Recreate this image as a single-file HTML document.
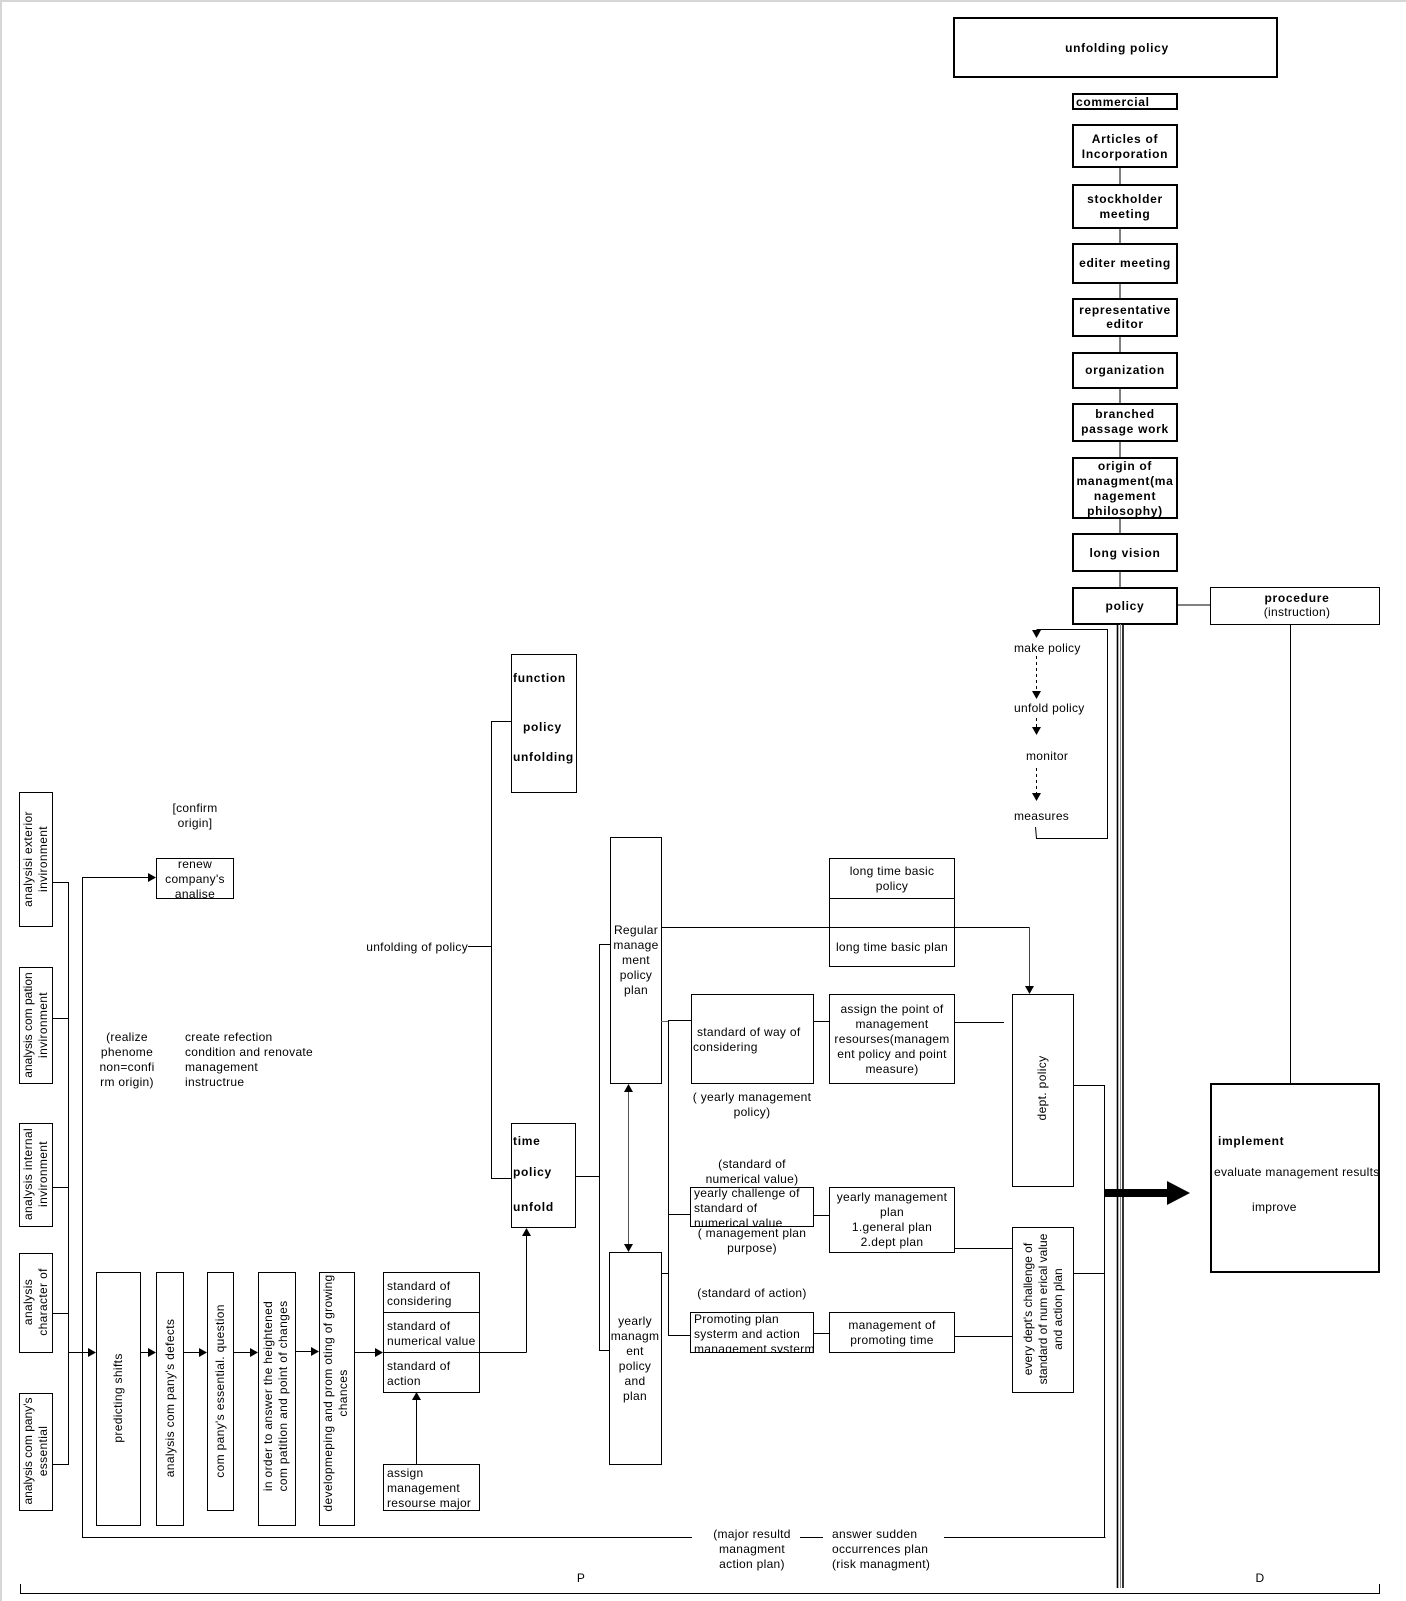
<!DOCTYPE html>
<html><head><meta charset="utf-8"><style>
html,body{margin:0;padding:0;background:#fff;}
svg{display:block;}
text{font-family:"Liberation Sans",Arial,sans-serif;font-size:12px;fill:#000;letter-spacing:0.3px;}
.b{font-weight:bold;letter-spacing:0.7px;}
.r{letter-spacing:0.35px;}
.r2{letter-spacing:0px;}
rect{fill:none;stroke:#000;stroke-width:1;}
line,polyline{stroke:#000;stroke-width:1;fill:none;}
</style></head><body>
<svg width="1406" height="1601" viewBox="0 0 1406 1601" xmlns="http://www.w3.org/2000/svg">
<defs>
<clipPath id="c1"><rect x="690" y="1187" width="123" height="39"/></clipPath>
<clipPath id="c2"><rect x="690" y="1312" width="123" height="40"/></clipPath>
<clipPath id="c3"><rect x="19" y="1393" width="33" height="117"/></clipPath>
</defs>
<rect x="0" y="0" width="1406" height="2" style="fill:#d6d6d6;stroke:none"/>
<rect x="0" y="0" width="2" height="1601" style="fill:#d6d6d6;stroke:none"/>

<!-- top chain -->
<rect x="954" y="18" width="323" height="59" style="stroke-width:2"/>
<text x="1117" y="52" class="b" text-anchor="middle">unfolding policy</text>
<rect x="1073" y="94" width="104" height="15" style="stroke-width:2"/>
<text x="1076" y="106" class="b">commercial</text>
<rect x="1073" y="125" width="104" height="42" style="stroke-width:2"/>
<text x="1125" y="143" class="b" text-anchor="middle">Articles of</text>
<text x="1125" y="158" class="b" text-anchor="middle">Incorporation</text>
<line x1="1120" y1="167" x2="1120" y2="185"/>
<rect x="1073" y="185" width="104" height="43" style="stroke-width:2"/>
<text x="1125" y="203" class="b" text-anchor="middle">stockholder</text>
<text x="1125" y="218" class="b" text-anchor="middle">meeting</text>
<line x1="1120" y1="228" x2="1120" y2="244"/>
<rect x="1073" y="244" width="104" height="39" style="stroke-width:2"/>
<text x="1125" y="267" class="b" text-anchor="middle">editer meeting</text>
<line x1="1120" y1="283" x2="1120" y2="299"/>
<rect x="1073" y="299" width="104" height="37" style="stroke-width:2"/>
<text x="1125" y="314" class="b" text-anchor="middle">representative</text>
<text x="1125" y="328" class="b" text-anchor="middle">editor</text>
<line x1="1120" y1="336" x2="1120" y2="353"/>
<rect x="1073" y="353" width="104" height="35" style="stroke-width:2"/>
<text x="1125" y="374" class="b" text-anchor="middle">organization</text>
<line x1="1120" y1="388" x2="1120" y2="404"/>
<rect x="1073" y="404" width="104" height="37" style="stroke-width:2"/>
<text x="1125" y="418" class="b" text-anchor="middle">branched</text>
<text x="1125" y="433" class="b" text-anchor="middle">passage work</text>
<line x1="1120" y1="441" x2="1120" y2="458"/>
<rect x="1073" y="458" width="104" height="60" style="stroke-width:2"/>
<text x="1125" y="470" class="b" text-anchor="middle">origin of</text>
<text x="1125" y="485" class="b" text-anchor="middle">managment(ma</text>
<text x="1125" y="500" class="b" text-anchor="middle">nagement</text>
<text x="1125" y="515" class="b" text-anchor="middle">philosophy)</text>
<line x1="1120" y1="518" x2="1120" y2="534"/>
<rect x="1073" y="534" width="104" height="37" style="stroke-width:2"/>
<text x="1125" y="557" class="b" text-anchor="middle">long vision</text>
<line x1="1120" y1="571" x2="1120" y2="588"/>
<rect x="1073" y="588" width="104" height="36" style="stroke-width:2"/>
<text x="1125" y="610" class="b" text-anchor="middle">policy</text>
<line x1="1177" y1="605" x2="1210" y2="605"/>
<rect x="1210.5" y="587.5" width="169" height="37"/>
<text x="1297" y="602" class="b" text-anchor="middle">procedure</text>
<text x="1297" y="616" text-anchor="middle">(instruction)</text>
<line x1="1290.5" y1="624" x2="1290.5" y2="1084"/>

<!-- triple line -->
<line x1="1117.5" y1="624" x2="1117.5" y2="1588" style="stroke-width:1.6"/>
<line x1="1120.5" y1="624" x2="1120.5" y2="1588" style="stroke:#8a8a8a;stroke-width:1"/>
<line x1="1123" y1="624" x2="1123" y2="1588" style="stroke-width:1.6"/>

<!-- loop -->
<polyline points="1036.5,629.5 1107.5,629.5 1107.5,838.5 1036.5,838.5 1035.5,827"/>
<polygon points="1032,630 1041,630 1036.5,638" fill="#000"/>
<text x="1014" y="652">make policy</text>
<line x1="1036.5" y1="656" x2="1036.5" y2="691" style="stroke-dasharray:3,3"/>
<polygon points="1032,691 1041,691 1036.5,699" fill="#000"/>
<text x="1014" y="712">unfold policy</text>
<line x1="1036.5" y1="718" x2="1036.5" y2="727" style="stroke-dasharray:3,3"/>
<polygon points="1032,727 1041,727 1036.5,735" fill="#000"/>
<text x="1026" y="760">monitor</text>
<line x1="1036.5" y1="768" x2="1036.5" y2="793" style="stroke-dasharray:3,3"/>
<polygon points="1032,793 1041,793 1036.5,801" fill="#000"/>
<text x="1014" y="820">measures</text>

<!-- implement -->
<rect x="1211" y="1084" width="168" height="188" style="stroke-width:2"/>
<text x="1218" y="1145" class="b">implement</text>
<text x="1214" y="1176">evaluate management results</text>
<text x="1252" y="1211">improve</text>
<rect x="1104" y="1189" width="64" height="8" style="fill:#000;stroke:none"/>
<polygon points="1167,1181 1190,1193 1167,1205" fill="#000"/>

<!-- left column boxes -->
<rect x="19.5" y="792.5" width="33" height="134"/>
<g transform="translate(36,859) rotate(-90)"><text class="r" x="0" y="-4" text-anchor="middle">analysisi exterior</text><text class="r" x="0" y="11" text-anchor="middle">invironment</text></g>
<rect x="19.5" y="967.5" width="33" height="116"/>
<g transform="translate(36,1025) rotate(-90)"><text class="r2" x="0" y="-4" text-anchor="middle">analysis com pation</text><text class="r" x="0" y="11" text-anchor="middle">invironment</text></g>
<rect x="19.5" y="1123.5" width="33" height="103"/>
<g transform="translate(36,1174) rotate(-90)"><text class="r" x="0" y="-4" text-anchor="middle">analysis internal</text><text class="r" x="0" y="11" text-anchor="middle">invironment</text></g>
<rect x="19.5" y="1253.5" width="33" height="99"/>
<g transform="translate(36,1302) rotate(-90)"><text class="r" x="0" y="-4" text-anchor="middle">analysis</text><text class="r" x="0" y="11" text-anchor="middle">character of</text></g>
<rect x="19.5" y="1393.5" width="33" height="117"/>
<g clip-path="url(#c3)"><g transform="translate(36,1451) rotate(-90)"><text class="r2" x="0" y="-4" text-anchor="middle">analysis com pany's</text><text class="r" x="0" y="11" text-anchor="middle">essential</text></g></g>

<line x1="52" y1="882.5" x2="68.5" y2="882.5"/>
<line x1="52" y1="1018.5" x2="68.5" y2="1018.5"/>
<line x1="52" y1="1187.5" x2="68.5" y2="1187.5"/>
<line x1="52" y1="1313.5" x2="68.5" y2="1313.5"/>
<line x1="52" y1="1464.5" x2="68.5" y2="1464.5"/>
<line x1="68.5" y1="882" x2="68.5" y2="1465"/>

<line x1="82.5" y1="877.5" x2="82.5" y2="1537.5"/>
<line x1="82" y1="877.5" x2="149" y2="877.5"/>
<polygon points="148,873 156,877.5 148,882" fill="#000"/>
<rect x="156.5" y="858.5" width="77" height="40"/>
<text x="195" y="868" text-anchor="middle">renew</text>
<text x="195" y="883" text-anchor="middle">company's</text>
<text x="195" y="898" text-anchor="middle">analise</text>
<text x="195" y="812" text-anchor="middle">[confirm</text>
<text x="195" y="827" text-anchor="middle">origin]</text>

<text x="127" y="1041" text-anchor="middle">(realize</text>
<text x="127" y="1056" text-anchor="middle">phenome</text>
<text x="127" y="1071" text-anchor="middle">non=confi</text>
<text x="127" y="1086" text-anchor="middle">rm origin)</text>
<text x="185" y="1041">create refection</text>
<text x="185" y="1056">condition and renovate</text>
<text x="185" y="1071">management</text>
<text x="185" y="1086">instructrue</text>

<!-- bottom chain -->
<line x1="68" y1="1352.5" x2="89" y2="1352.5"/>
<polygon points="88,1348 96,1352.5 88,1357" fill="#000"/>
<rect x="96.5" y="1272.5" width="44" height="253"/>
<g transform="translate(118,1398) rotate(-90)"><text class="r" x="0" y="4" text-anchor="middle">predicting shifts</text></g>
<line x1="140" y1="1352.5" x2="149" y2="1352.5"/>
<polygon points="148,1348 156,1352.5 148,1357" fill="#000"/>
<rect x="156.5" y="1272.5" width="27" height="253"/>
<g transform="translate(170,1398) rotate(-90)"><text class="r" x="0" y="4" text-anchor="middle">analysis com pany's defects</text></g>
<line x1="183" y1="1352.5" x2="200" y2="1352.5"/>
<polygon points="199,1348 207,1352.5 199,1357" fill="#000"/>
<rect x="207.5" y="1272.5" width="26" height="238"/>
<g transform="translate(220,1391) rotate(-90)"><text class="r" x="0" y="4" text-anchor="middle">com pany's essential.  question</text></g>
<line x1="233" y1="1352.5" x2="251" y2="1352.5"/>
<polygon points="250,1348 258,1352.5 250,1357" fill="#000"/>
<rect x="258.5" y="1272.5" width="37" height="253"/>
<g transform="translate(276,1396) rotate(-90)"><text class="r" x="0" y="-4" text-anchor="middle">in order to answer the heightened</text><text class="r" x="0" y="11" text-anchor="middle">com patition and point of changes</text></g>
<line x1="295" y1="1351.5" x2="312" y2="1351.5"/>
<polygon points="311,1347 319,1351.5 311,1356" fill="#000"/>
<rect x="319.5" y="1272.5" width="35" height="253"/>
<g transform="translate(336,1393) rotate(-90)"><text class="r" x="0" y="-4" text-anchor="middle">developmeping and prom oting of growing</text><text class="r" x="0" y="11" text-anchor="middle">chances</text></g>
<line x1="354" y1="1352.5" x2="376" y2="1352.5"/>
<polygon points="375,1348 383,1352.5 375,1357" fill="#000"/>

<rect x="383.5" y="1272.5" width="96" height="120"/>
<line x1="383" y1="1312.5" x2="479" y2="1312.5"/>
<line x1="383" y1="1352.5" x2="526.5" y2="1352.5"/>
<text x="387" y="1290">standard of</text>
<text x="387" y="1305">considering</text>
<text x="387" y="1330">standard of</text>
<text x="387" y="1345">numerical value</text>
<text x="387" y="1370">standard of</text>
<text x="387" y="1385">action</text>
<line x1="526.5" y1="1352.5" x2="526.5" y2="1234"/>
<polygon points="522,1236 526.5,1228 531,1236" fill="#000"/>
<line x1="416.5" y1="1464" x2="416.5" y2="1398"/>
<polygon points="412,1400 416.5,1392 421,1400" fill="#000"/>
<rect x="383.5" y="1464.5" width="96" height="46"/>
<text x="387" y="1477">assign</text>
<text x="387" y="1492">management</text>
<text x="387" y="1507">resourse major</text>

<!-- bottom line / feedback -->
<line x1="82" y1="1537.5" x2="692" y2="1537.5"/>
<line x1="800" y1="1537.5" x2="823" y2="1537.5"/>
<line x1="944" y1="1537.5" x2="1105.5" y2="1537.5"/>
<text x="752" y="1538" text-anchor="middle">(major resultd</text>
<text x="752" y="1553" text-anchor="middle">managment</text>
<text x="752" y="1568" text-anchor="middle">action plan)</text>
<text x="832" y="1538">answer sudden</text>
<text x="832" y="1553">occurrences plan</text>
<text x="832" y="1568">(risk managment)</text>
<text x="581" y="1582" text-anchor="middle">P</text>
<text x="1260" y="1582" text-anchor="middle">D</text>
<polyline points="20.5,1584 20.5,1593.5 1379.5,1593.5 1379.5,1584"/>

<!-- middle -->
<text x="468" y="951" text-anchor="end">unfolding of policy</text>
<line x1="468" y1="946.5" x2="491.5" y2="946.5"/>
<line x1="491.5" y1="721.5" x2="491.5" y2="1178.5"/>
<line x1="491" y1="721.5" x2="511" y2="721.5"/>
<line x1="491" y1="1178.5" x2="511" y2="1178.5"/>
<rect x="511.5" y="654.5" width="65" height="138"/>
<text x="513" y="682" class="b">function</text>
<text x="523" y="731" class="b">policy</text>
<text x="513" y="761" class="b">unfolding</text>
<rect x="511.5" y="1123.5" width="64" height="104"/>
<text x="513" y="1145" class="b">time</text>
<text x="513" y="1176" class="b">policy</text>
<text x="513" y="1211" class="b">unfold</text>
<line x1="575" y1="1176.5" x2="599.5" y2="1176.5"/>
<line x1="599.5" y1="944.5" x2="599.5" y2="1350.5"/>
<line x1="599" y1="944.5" x2="610" y2="944.5"/>
<line x1="599" y1="1350.5" x2="609" y2="1350.5"/>

<rect x="610.5" y="837.5" width="51" height="246"/>
<text x="636" y="934" text-anchor="middle">Regular</text>
<text x="636" y="949" text-anchor="middle">manage</text>
<text x="636" y="964" text-anchor="middle">ment</text>
<text x="636" y="979" text-anchor="middle">policy</text>
<text x="636" y="994" text-anchor="middle">plan</text>
<rect x="609.5" y="1252.5" width="52" height="212"/>
<text x="635" y="1325" text-anchor="middle">yearly</text>
<text x="635" y="1340" text-anchor="middle">managm</text>
<text x="635" y="1355" text-anchor="middle">ent</text>
<text x="635" y="1370" text-anchor="middle">policy</text>
<text x="635" y="1385" text-anchor="middle">and</text>
<text x="635" y="1400" text-anchor="middle">plan</text>
<line x1="628.5" y1="1090" x2="628.5" y2="1246" style="stroke:#555"/>
<polygon points="624,1092 628.5,1084 633,1092" fill="#000"/>
<polygon points="624,1244 628.5,1252 633,1244" fill="#000"/>

<line x1="661" y1="927.5" x2="1029.5" y2="927.5"/>
<line x1="1029.5" y1="927" x2="1029.5" y2="988" style="stroke:#444"/>
<polygon points="1025,986 1029.5,994 1034,986" fill="#000"/>
<rect x="829.5" y="858.5" width="125" height="108"/>
<line x1="829" y1="898.5" x2="954" y2="898.5"/>
<text x="892" y="875" text-anchor="middle">long time basic</text>
<text x="892" y="890" text-anchor="middle">policy</text>
<text x="892" y="951" text-anchor="middle">long time basic plan</text>

<line x1="661" y1="1021.5" x2="668.5" y2="1021.5" style="stroke:#666"/>
<line x1="668.5" y1="1020" x2="668.5" y2="1335.5"/>
<line x1="668" y1="1020.5" x2="691" y2="1020.5"/>
<line x1="668" y1="1214.5" x2="690" y2="1214.5"/>
<line x1="661" y1="1273.5" x2="668" y2="1273.5"/>
<line x1="668" y1="1335.5" x2="690" y2="1335.5"/>

<rect x="691.5" y="994.5" width="122" height="89"/>
<text x="697" y="1036">standard of way of</text>
<text x="693" y="1051">considering</text>
<line x1="813" y1="1021.5" x2="829" y2="1021.5"/>
<rect x="829.5" y="994.5" width="125" height="89"/>
<text x="892" y="1013" text-anchor="middle">assign the point of</text>
<text x="892" y="1028" text-anchor="middle">management</text>
<text x="892" y="1043" text-anchor="middle">resourses(managem</text>
<text x="892" y="1058" text-anchor="middle">ent policy and point</text>
<text x="892" y="1073" text-anchor="middle">measure)</text>
<line x1="954" y1="1022.5" x2="1004" y2="1022.5"/>
<text x="752" y="1101" text-anchor="middle">( yearly management</text>
<text x="752" y="1116" text-anchor="middle">policy)</text>

<text x="752" y="1168" text-anchor="middle">(standard of</text>
<text x="752" y="1183" text-anchor="middle">numerical value)</text>
<rect x="690.5" y="1187.5" width="123" height="39"/>
<g clip-path="url(#c1)">
<text x="694" y="1197">yearly challenge of</text>
<text x="694" y="1212">standard of</text>
<text x="694" y="1227">numerical value</text>
</g>
<text x="752" y="1237" text-anchor="middle">( management plan</text>
<text x="752" y="1252" text-anchor="middle">purpose)</text>
<line x1="813" y1="1215.5" x2="829" y2="1215.5"/>
<rect x="829.5" y="1187.5" width="125" height="65"/>
<text x="892" y="1201" text-anchor="middle">yearly management</text>
<text x="892" y="1216" text-anchor="middle">plan</text>
<text x="892" y="1231" text-anchor="middle">1.general plan</text>
<text x="892" y="1246" text-anchor="middle">2.dept plan</text>
<line x1="954" y1="1248.5" x2="1012" y2="1248.5"/>

<text x="752" y="1297" text-anchor="middle">(standard of action)</text>
<rect x="690.5" y="1312.5" width="123" height="40"/>
<g clip-path="url(#c2)">
<text x="694" y="1323">Promoting plan</text>
<text x="694" y="1338">systerm and action</text>
<text x="694" y="1353">management systerm</text>
</g>
<line x1="813" y1="1333.5" x2="829" y2="1333.5"/>
<rect x="829.5" y="1312.5" width="125" height="40"/>
<text x="892" y="1329" text-anchor="middle">management of</text>
<text x="892" y="1344" text-anchor="middle">promoting time</text>
<line x1="954" y1="1336.5" x2="1012" y2="1336.5"/>

<rect x="1012.5" y="994.5" width="61" height="192"/>
<g transform="translate(1042,1088) rotate(-90)"><text class="r" x="0" y="4" text-anchor="middle">dept.  policy</text></g>
<rect x="1012.5" y="1227.5" width="61" height="165"/>
<g transform="translate(1043,1309) rotate(-90)"><text class="r2" x="0" y="-11" text-anchor="middle">every dept's challenge of</text><text class="r2" x="0" y="4" text-anchor="middle">standard of num erical value</text><text class="r2" x="0" y="19" text-anchor="middle">and action plan</text></g>
<line x1="1073" y1="1085.5" x2="1104.5" y2="1085.5"/>
<line x1="1073" y1="1273.5" x2="1104.5" y2="1273.5"/>
<line x1="1104.5" y1="1085" x2="1104.5" y2="1538"/>
</svg>
</body></html>
